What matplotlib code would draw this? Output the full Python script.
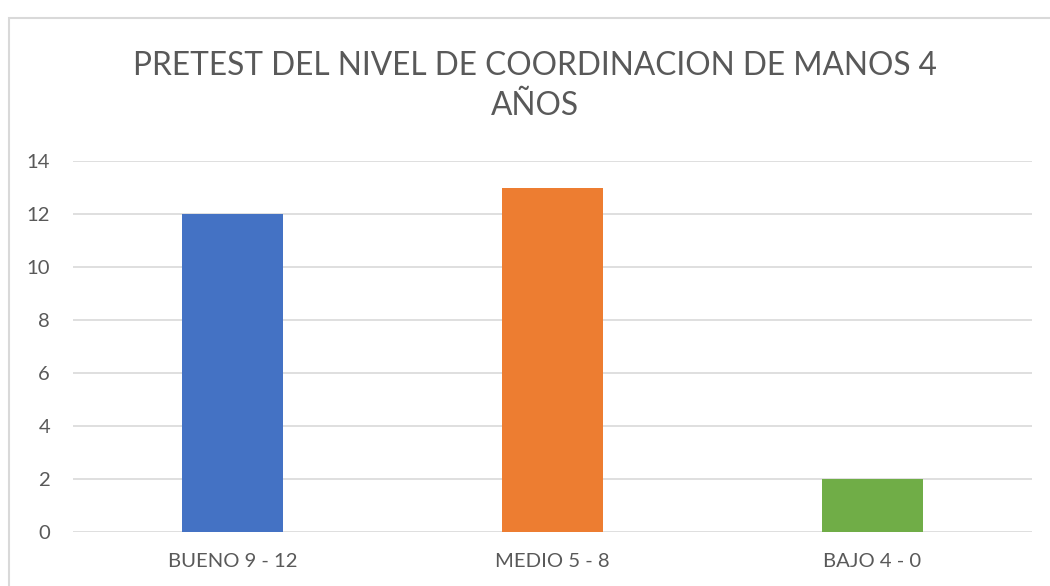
import matplotlib.pyplot as plt
from matplotlib.patches import Rectangle

# categories and counts
categorias = ["BUENO 9 - 12", "MEDIO 5 - 8", "BAJO 4 - 0"]
valores = [12, 13, 2]
colores = ["#4472C4", "#ED7D31", "#70AD47"]
y_ticks = [0, 2, 4, 6, 8, 10, 12, 14]

plt.rcParams['font.family'] = ['Lato', 'DejaVu Sans']
texto = "#595959"

W, H = 1050, 586
fig = plt.figure(figsize=(W / 100, H / 100), dpi=100)

# chart frame
fig.patches.append(Rectangle((9 / W, -0.05), 1.1, 1 - 18 / H + 0.05,
                             transform=fig.transFigure, fill=False,
                             edgecolor="#D9D9D9", linewidth=1.5))

ax = fig.add_axes([73 / W, 1 - 532 / H, (1032 - 73) / W, (532 - 161) / H])
x = range(len(categorias))
ax.bar(x, valores, width=0.316, color=colores, zorder=3)

ax.set_xlim(-0.5, 2.5)
ax.set_ylim(0, 14)
ax.set_yticks(y_ticks)
ax.set_xticks(list(x))
ax.set_xticklabels(categorias)
ax.grid(axis="y", color="#D9D9D9", linewidth=1.2, zorder=0)
ax.tick_params(length=0, labelsize=14.6, colors=texto)
ax.tick_params(axis="y", pad=16.5)
ax.tick_params(axis="x", pad=15)
for s in ax.spines.values():
    s.set_visible(False)

fig.text(535 / W, 1 - 66 / H, "PRETEST DEL NIVEL DE COORDINACION DE MANOS 4",
         ha="center", va="center", fontsize=22.8, color=texto)
fig.text(535 / W, 1 - 106 / H, "AÑOS",
         ha="center", va="center", fontsize=22.8, color=texto)

fig.savefig("out.png", dpi=100, facecolor="white")
